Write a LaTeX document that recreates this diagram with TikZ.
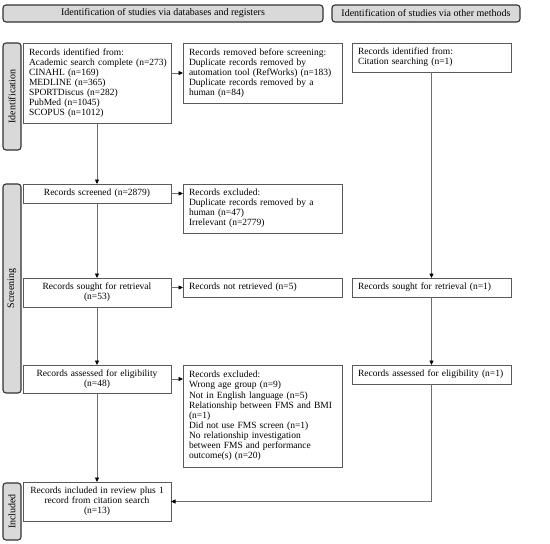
\documentclass[tikz,border=0pt]{standalone}
\usepackage{fontspec}
\setmainfont{Liberation Serif}
\usetikzlibrary{arrows.meta}
\definecolor{boxgray}{HTML}{595959}
\definecolor{linegray}{HTML}{6E6E6E}
\definecolor{hdrfill}{HTML}{D9D9D9}
\definecolor{hdrdraw}{HTML}{333333}
\hfuzz=20pt
\begin{document}
\begin{tikzpicture}[x=1pt,y=-1pt,
  box/.style={draw=boxgray, line width=0.9pt, inner xsep=6pt, inner ysep=0pt, outer sep=0pt,
    font=\fontsize{9.5}{10.1}\selectfont, align=left, anchor=north west},
  cbox/.style={box, align=center},
  hdr/.style={draw=hdrdraw, fill=hdrfill, line width=1.1pt, rounded corners=3pt, inner sep=0pt,
    outer sep=0pt, font=\fontsize{10}{10}\selectfont, anchor=north west},
  side/.style={draw=hdrdraw, fill=hdrfill, line width=1.1pt, rounded corners=3pt, inner sep=0pt,
    outer sep=0pt, font=\fontsize{10}{10}\selectfont, rotate=90, minimum height=18pt},
  arr/.style={draw=linegray, line width=0.7pt, -{Triangle[length=4.5pt,width=4pt,fill=black,color=black]}}
]
\useasboundingbox (0,0) rectangle (550,544);
% headers
\node[hdr, minimum width=320pt, minimum height=17pt] (h1) at (3,5) {Identification of studies via databases and registers};
\node[hdr, minimum width=188pt, minimum height=17pt] (h2) at (332,5) {Identification of studies via other methods};
% side labels
\node[side, minimum width=107pt] (s1) at (12,96.5) {Identification};
\node[side, minimum width=209pt] (s2) at (12,288.5) {Screening};
\node[side, minimum width=57pt] (s3) at (12,511.5) {Included};
% boxes
\node[box, text width=136pt, minimum width=148pt, minimum height=80pt] (A) at (23,43)
 {Records identified from:\\\mbox{Academic search complete (n=273)}\\CINAHL (n=169)\\MEDLINE (n=365)\\SPORTDiscus (n=282)\\PubMed (n=1045)\\SCOPUS (n=1012)};
\node[box, text width=147pt, minimum width=159pt, minimum height=60pt] (B) at (183,43)
 {Records removed before screening:\\Duplicate records removed by\\\mbox{automation tool (RefWorks) (n=183)}\\Duplicate records removed by a\\human (n=84)};
\node[box, text width=147pt, minimum width=159pt, minimum height=29pt] (C) at (352,43)
 {Records identified from:\\Citation searching (n=1)};
\node[cbox, text width=136pt, minimum width=148pt, minimum height=19pt] (D) at (23,184)
 {Records screened (n=2879)};
\node[box, text width=147pt, minimum width=159pt, minimum height=49pt] (E) at (183,184)
 {Records excluded:\\Duplicate records removed by a\\human (n=47)\\Irrelevant (n=2779)};
\node[cbox, text width=136pt, minimum width=148pt, minimum height=29pt] (F) at (23,278)
 {Records sought for retrieval\\(n=53)};
\node[box, text width=147pt, minimum width=159pt, minimum height=19pt] (G) at (183,278)
 {Records not retrieved (n=5)};
\node[box, text width=147pt, minimum width=159pt, minimum height=19pt] (H) at (352,278)
 {Records sought for retrieval (n=1)};
\node[cbox, text width=136pt, minimum width=148pt, minimum height=28pt] (I) at (23,365)
 {Records assessed for eligibility\\(n=48)};
\node[box, text width=147pt, minimum width=159pt, minimum height=102pt] (J) at (183,365)
 {Records excluded:\\Wrong age group (n=9)\\Not in English language (n=5)\\\mbox{Relationship between FMS and BMI}\\(n=1)\\Did not use FMS screen (n=1)\\No relationship investigation\\between FMS and performance\\outcome(s) (n=20)};
\node[box, text width=147pt, minimum width=159pt, minimum height=19pt] (K) at (352,365)
 {\mbox{Records assessed for eligibility (n=1)}};
\node[cbox, text width=136pt, minimum width=148pt, minimum height=39pt] (L) at (23,482)
 {Records included in review plus 1\\record from citation search\\(n=13)};
% connectors
\draw[arr] (A.south) -- (D.north);
\draw[arr] (D.south) -- (F.north);
\draw[arr] (F.south) -- (I.north);
\draw[arr] (I.south) -- (L.north);
\draw[arr] (B.west -| A.east) -- (B.west);
\draw[arr] (D.east) -- (D.east -| E.west);
\draw[arr] (G.west -| F.east) -- (G.west);
\draw[arr] (I.east) -- (I.east -| J.west);
\draw[arr] (C.south) -- (H.north);
\draw[arr] (H.south) -- (K.north);
\draw[arr] (K.south) -- (K.south |- L.east) -- (L.east);
\end{tikzpicture}
\end{document}
